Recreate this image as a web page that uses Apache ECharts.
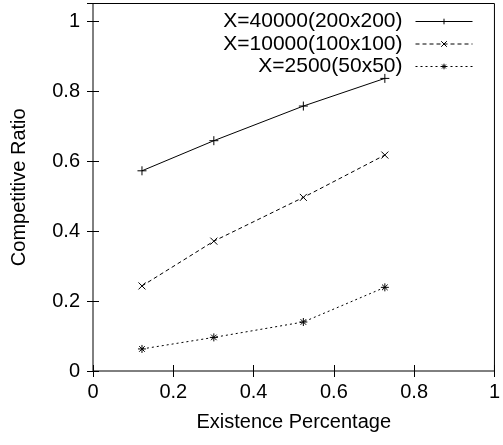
<!DOCTYPE html>
<html><head><meta charset="utf-8">
<script src="https://cdn.jsdelivr.net/npm/echarts@6/dist/echarts.min.js"></script>
<style>html,body{margin:0;padding:0;background:#fff}#c{width:503px;height:445px}</style>
</head><body><div id="c"></div>
<script>
const xValues = [0.122, 0.301, 0.524, 0.727];
const s40000 = [0.572, 0.658, 0.757, 0.836];
const s10000 = [0.243, 0.371, 0.496, 0.617];
const s2500 = [0.063, 0.096, 0.140, 0.239];
const seriesNames = ['X=40000(200x200)', 'X=10000(100x100)', 'X=2500(50x50)'];
const xTitle = 'Existence Percentage';
const yTitle = 'Competitive Ratio';

const FONT = '"Liberation Sans", Arial, sans-serif';
const plus = 'path://M0,5L10,5M5,0L5,10';
const cross = 'path://M0,0L10,10M10,0L0,10';
const star = 'path://M0,5L10,5M5,0L5,10M1.5,1.5L8.5,8.5M8.5,1.5L1.5,8.5';

function pairs(ys){ return xValues.map((x,i)=>[x, ys[i]]); }
function mk(name, ys, sym, size, type){
  return {
    name, type:'line', data: pairs(ys), symbol: sym, symbolSize: size,
    showSymbol:true, animation:false,
    lineStyle:{color:'#000', width:1, type:type},
    itemStyle:{color:'rgba(0,0,0,0)', borderColor:'#000', borderWidth:1}
  };
}
const fmt = v => (v > 1.001 ? '' : String(+v.toFixed(1)));
const chart = echarts.init(document.getElementById('c'));
chart.setOption({
  backgroundColor:'#fff',
  animation:false,
  textStyle:{fontFamily:FONT},
  grid:{left:93, right:4, top:3.5, bottom:74, show:true, borderColor:'#000', borderWidth:1, containLabel:false},
  legend:{
    orient:'vertical', right:30, top:11, align:'right', itemWidth:57, itemHeight:7, itemGap:1.5,
    padding:0,
    itemStyle:{color:'rgba(0,0,0,0)', borderColor:'#000', borderWidth:1},
    lineStyle:{width:1},
    textStyle:{fontFamily:FONT, fontSize:21, color:'#000', padding:[0,8,0,0], lineHeight:21},
    data: seriesNames
  },
  xAxis:[{
    type:'value', min:0, max:1, interval:0.2, position:'bottom',
    name:xTitle, nameLocation:'middle', nameGap:41,
    nameTextStyle:{fontFamily:FONT, fontSize:20, color:'#000'},
    axisLine:{show:false}, splitLine:{show:false},
    axisTick:{inside:true, length:6, lineStyle:{color:'#000'}},
    axisLabel:{fontFamily:FONT, fontSize:20, color:'#000', margin:11, formatter:fmt}
  },{
    type:'value', min:0, max:1, interval:0.2, position:'top',
    axisLine:{show:false}, splitLine:{show:false},
    axisTick:{inside:true, length:6, lineStyle:{color:'#000'}},
    axisLabel:{show:false}
  }],
  yAxis:[{
    type:'value', min:0, max:1.05, interval:0.2, position:'left',
    name:yTitle, nameLocation:'middle', nameGap:64, nameRotate:90,
    nameTextStyle:{fontFamily:FONT, fontSize:20, color:'#000'},
    axisLine:{show:false}, splitLine:{show:false},
    axisTick:{inside:true, length:6, lineStyle:{color:'#000'}},
    axisLabel:{fontFamily:FONT, fontSize:20, color:'#000', margin:13, formatter:fmt}
  },{
    type:'value', min:0, max:1.05, interval:0.2, position:'right',
    axisLine:{show:false}, splitLine:{show:false},
    axisTick:{inside:true, length:6, lineStyle:{color:'#000'}},
    axisLabel:{show:false}
  }],
  series:[
    mk(seriesNames[0], s40000, plus, 9, 'solid'),
    mk(seriesNames[1], s10000, cross, 7, [4,3]),
    mk(seriesNames[2], s2500, star, 8, [2,3])
  ]
});
</script></body></html>
